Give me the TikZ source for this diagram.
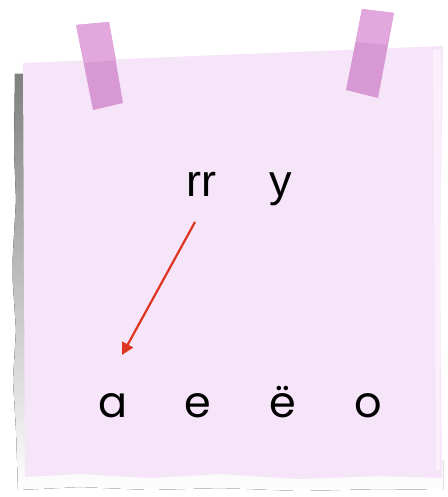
\documentclass[tikz,border=0pt]{standalone}
\usepackage{fontspec}
\setmainfont{Poppins}
\newfontfamily\arialfont{Liberation Sans}
\usetikzlibrary{arrows.meta}
\definecolor{paper}{RGB}{246,228,248}
\definecolor{shade}{RGB}{206,208,206}
\definecolor{tapeA}{RGB}{226,168,221}
\definecolor{tapeB}{RGB}{216,152,212}
\definecolor{arrowred}{RGB}{222,52,32}
\tikzset{
  letter/.style={font=\fontsize{43}{43}\selectfont, text=black, inner sep=0pt, anchor=base},
  topletter/.style={font=\arialfont\fontsize{45}{45}\selectfont, text=black, inner sep=0pt, anchor=base},
  tape/.style={fill=tapeB, draw=none},
  conn/.style={draw=arrowred, line width=2.2pt, -{Triangle[length=12pt,width=12pt]}}
}
\begin{document}
\begin{tikzpicture}[x=1pt,y=-1pt]
\useasboundingbox (0,0) rectangle (447,497);
\fill[white] (0,0) rectangle (447,497);
% shadow
\fill[shade] (15,74) -- (30,74) -- (30,460) -- (443,460) -- (443,490)
  -- (380,489) -- (300,491) -- (220,488) -- (150,490) -- (80,487) -- (18,490) -- (16,430) -- (13,380) -- (16,330) -- (12,270) -- (16,200) -- (14,150) -- cycle;
% paper
\fill[paper] (23,63) -- (443,46) -- (442,120) -- (440,250) -- (441,380) -- (442,478) -- (380,476) -- (300,479) -- (220,474) -- (150,478) -- (80,474) -- (25,477) -- cycle;
\fill[white!40!paper] (433,50) -- (441,50) -- (440,470) -- (436,470) -- cycle;
% tapes
\fill[tape] (76,25) -- (109,22) -- (123,103) -- (93,110) -- cycle;
\fill[tapeA] (76,25) -- (109,22) -- (116,60) -- (84,63) -- cycle;
\fill[tape] (362,9) -- (394,13) -- (378,98) -- (346,90) -- cycle;
\fill[tapeA] (362,9) -- (394,13) -- (387,45) -- (356,42) -- cycle;
% letters
\node[topletter] (rr) at (201,196) {rr};
\node[topletter] (y) at (281,196) {y};
\node[letter] (a) at (113,417) {a};
\node[letter] (e) at (198,417) {e};
\node[letter] (yo) at (283,417) {ë};
\node[letter] (o) at (368,417) {o};
\coordinate (s) at (195,222);
\coordinate (t) at (122,355);
\draw[conn] (s) -- (t);
\end{tikzpicture}
\end{document}
